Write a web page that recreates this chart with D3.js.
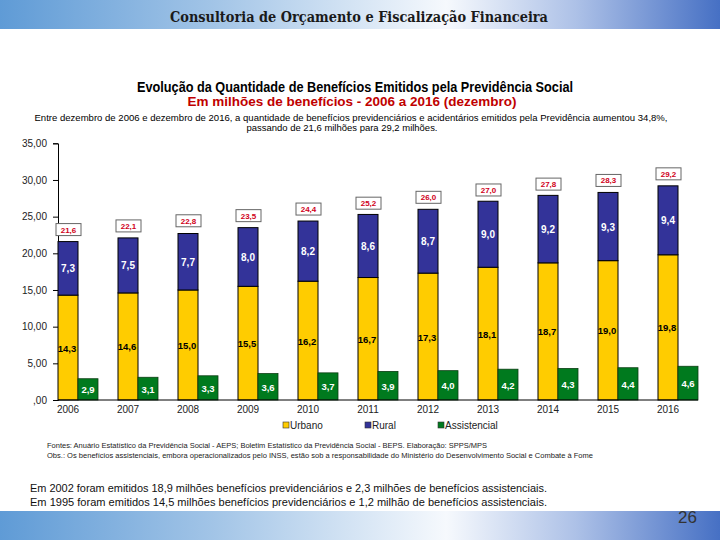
<!DOCTYPE html>
<html><head><meta charset="utf-8">
<script src="https://cdn.jsdelivr.net/npm/d3@7"></script>
<style>html,body{margin:0;padding:0;background:#fff;}svg{display:block;}</style>
</head><body>
<script>
const years = ["2006","2007","2008","2009","2010","2011","2012","2013","2014","2015","2016"];
const urbano = [14.3,14.6,15.0,15.5,16.2,16.7,17.3,18.1,18.7,19.0,19.8];
const rural = [7.3,7.5,7.7,8.0,8.2,8.6,8.7,9.0,9.2,9.3,9.4];
const totais = [21.6,22.1,22.8,23.5,24.4,25.2,26.0,27.0,27.8,28.3,29.2];
const assistencial = [2.9,3.1,3.3,3.6,3.7,3.9,4.0,4.2,4.3,4.4,4.6];
const yTicks = [0,5,10,15,20,25,30,35];
const seriesNames = ["Urbano","Rural","Assistencial"];
const colors = {Urbano:"#FFCC00", Rural:"#333399", Assistencial:"#007A1E"};

const W=720,H=540;
const svg=d3.select("body").append("svg").attr("width",W).attr("height",H);
const defs=svg.append("defs");
const g=defs.append("linearGradient").attr("id","band").attr("x1","0").attr("x2","1").attr("y1","0").attr("y2","0");
[["0%","#5f9bd6"],["30%","#a3c5e7"],["62%","#f6f9fd"],["80%","#adc1e7"],["100%","#4670c4"]]
 .forEach(s=>g.append("stop").attr("offset",s[0]).attr("stop-color",s[1]));

// header & footer bands
svg.append("rect").attr("x",0).attr("y",0).attr("width",W).attr("height",29).attr("fill","url(#band)");
svg.append("rect").attr("x",0).attr("y",511).attr("width",W).attr("height",29).attr("fill","url(#band)");
svg.append("text").attr("x",359).attr("y",22).attr("text-anchor","middle")
  .attr("font-family","DejaVu Serif Condensed, DejaVu Serif, serif").attr("font-weight","bold").attr("font-size",14)
  .attr("fill","#1a1a1a").attr("textLength",378).attr("lengthAdjust","spacingAndGlyphs")
  .text("Consultoria de Orçamento e Fiscalização Financeira");
svg.append("text").attr("x",697).attr("y",523).attr("text-anchor","end")
  .attr("font-family","Liberation Sans Narrow, Liberation Sans, sans-serif").attr("font-size",17).attr("fill","#333")
  .text("26");

// titles
const ff="Liberation Sans, Arial, sans-serif";
svg.append("text").attr("x",355).attr("y",92).attr("text-anchor","middle").attr("font-family",ff)
  .attr("font-weight","bold").attr("font-size",14).attr("fill","#000").attr("textLength",436).attr("lengthAdjust","spacingAndGlyphs")
  .text("Evolução da Quantidade de Benefícios Emitidos pela Previdência Social");
svg.append("text").attr("x",352).attr("y",106).attr("text-anchor","middle").attr("font-family",ff)
  .attr("font-weight","bold").attr("font-size",13.5).attr("fill","#C00000").attr("textLength",329).attr("lengthAdjust","spacingAndGlyphs")
  .text("Em milhões de benefícios - 2006 a 2016 (dezembro)");
svg.append("text").attr("x",351).attr("y",121).attr("text-anchor","middle").attr("font-family",ff)
  .attr("font-size",9).attr("fill","#000").attr("textLength",633).attr("lengthAdjust","spacingAndGlyphs")
  .text("Entre dezembro de 2006 e dezembro de 2016, a quantidade de benefícios previdenciários e acidentários emitidos pela Previdência aumentou 34,8%,");
svg.append("text").attr("x",342).attr("y",131).attr("text-anchor","middle").attr("font-family",ff)
  .attr("font-size",9).attr("fill","#000").attr("textLength",191).attr("lengthAdjust","spacingAndGlyphs")
  .text("passando de 21,6 milhões para 29,2 milhões.");

// scales
const x=d3.scaleBand().domain(years).range([58,698]).paddingInner(1/3).paddingOuter(0);
const xs=d3.scaleBand().domain(["prev","assist"]).range([0,x.bandwidth()]);
const y=d3.scaleLinear().domain([0,35]).range([400,143.3]);
const fmt=v=>d3.format(".1f")(v).replace(".",",");

// y axis
const yAxis=svg.append("g").attr("transform","translate(58,0)")
  .call(d3.axisLeft(y).tickValues(yTicks).tickSize(5).tickFormat(v=>v===0?",00":d3.format(".2f")(v).replace(".",",")));
yAxis.select(".domain").attr("stroke","#000");
yAxis.selectAll(".tick line").attr("stroke","#000");
yAxis.selectAll("text").attr("font-family",ff).attr("font-size",10).attr("fill","#222").attr("x",-11);

// bars
const grp=svg.append("g");
years.forEach((yr,i)=>{
  const x0=x(yr);
  grp.append("rect").attr("x",x0+xs("prev")).attr("y",y(urbano[i])).attr("width",xs.bandwidth()).attr("height",y(0)-y(urbano[i]))
    .attr("fill",colors.Urbano).attr("stroke","#000").attr("stroke-width",1);
  grp.append("rect").attr("x",x0+xs("prev")).attr("y",y(urbano[i]+rural[i])).attr("width",xs.bandwidth()).attr("height",y(urbano[i])-y(urbano[i]+rural[i]))
    .attr("fill",colors.Rural).attr("stroke","#000").attr("stroke-width",1);
  grp.append("rect").attr("x",x0+xs("assist")).attr("y",y(assistencial[i])).attr("width",xs.bandwidth()).attr("height",y(0)-y(assistencial[i]))
    .attr("fill",colors.Assistencial).attr("stroke","#0a3d12").attr("stroke-width",0.8);
  const cx=x0+xs("prev")+xs.bandwidth()/2;
  grp.append("text").attr("x",cx-1).attr("y",y(urbano[i]/2)+4).attr("text-anchor","middle").attr("font-family",ff)
    .attr("font-weight","bold").attr("font-size",9.5).attr("fill","#000").text(fmt(urbano[i]));
  grp.append("text").attr("x",cx).attr("y",y(urbano[i]+rural[i]/2)+4).attr("text-anchor","middle").attr("font-family",ff)
    .attr("font-weight","bold").attr("font-size",10).attr("fill","#fff").text(fmt(rural[i]));
  const gx=x0+xs("assist")+xs.bandwidth()/2;
  grp.append("text").attr("x",gx).attr("y",y(assistencial[i]/2)+4).attr("text-anchor","middle").attr("font-family",ff)
    .attr("font-weight","bold").attr("font-size",9.5).attr("fill","#fff").text(fmt(assistencial[i]));
  // total box
  const by=y(totais[i])-6;
  grp.append("rect").attr("x",cx-12).attr("y",by-12).attr("width",25).attr("height",12)
    .attr("fill","#fff").attr("stroke","#666").attr("stroke-width",1);
  grp.append("text").attr("x",cx+0.5).attr("y",by-3).attr("text-anchor","middle").attr("font-family",ff)
    .attr("font-weight","bold").attr("font-size",8).attr("fill","#D0001A").text(fmt(totais[i]));
});

// x axis
const xAxis=svg.append("g").attr("transform","translate(0,400)");
xAxis.append("line").attr("x1",58).attr("x2",698).attr("y1",0).attr("y2",0).attr("stroke","#000");
years.forEach((yr,i)=>{
  const cx=x(yr)+xs("prev")+xs.bandwidth()/2;
  xAxis.append("text").attr("x",cx).attr("y",13).attr("text-anchor","middle").attr("font-family",ff)
    .attr("font-size",10).attr("fill","#222").text(yr);
});

// legend
const legX=[283,365,438];
seriesNames.forEach((s,i)=>{
  svg.append("rect").attr("x",legX[i]).attr("y",422).attr("width",6).attr("height",6)
    .attr("fill",colors[s]).attr("stroke","#333").attr("stroke-width",0.6);
  svg.append("text").attr("x",legX[i]+7).attr("y",429).attr("font-family",ff).attr("font-size",10).attr("fill","#222").text(s);
});

// footnotes
svg.append("text").attr("x",47).attr("y",448).attr("font-family",ff).attr("font-size",7.5).attr("fill","#222")
  .attr("textLength",440).attr("lengthAdjust","spacingAndGlyphs")
  .text("Fontes: Anuário Estatístico da Previdência Social - AEPS; Boletim Estatístico da Previdência Social - BEPS. Elaboração: SPPS/MPS");
svg.append("text").attr("x",47).attr("y",458).attr("font-family",ff).attr("font-size",7.5).attr("fill","#222")
  .attr("textLength",546).attr("lengthAdjust","spacingAndGlyphs")
  .text("Obs.: Os benefícios assistenciais, embora operacionalizados pelo INSS, estão sob a responsabilidade do Ministério do Desenvolvimento Social e Combate à Fome");

const nf="Liberation Sans Narrow, Liberation Sans, sans-serif";
svg.append("text").attr("x",30).attr("y",492).attr("font-family",nf).attr("font-size",11).attr("fill","#111")
  .attr("textLength",517).attr("lengthAdjust","spacingAndGlyphs")
  .text("Em 2002 foram emitidos 18,9 milhões benefícios previdenciários e 2,3 milhões de benefícios assistenciais.");
svg.append("text").attr("x",30).attr("y",506).attr("font-family",nf).attr("font-size",11).attr("fill","#111")
  .attr("textLength",517).attr("lengthAdjust","spacingAndGlyphs")
  .text("Em 1995 foram emitidos 14,5 milhões benefícios previdenciários e 1,2 milhão de benefícios assistenciais.");
</script>
</body></html>
